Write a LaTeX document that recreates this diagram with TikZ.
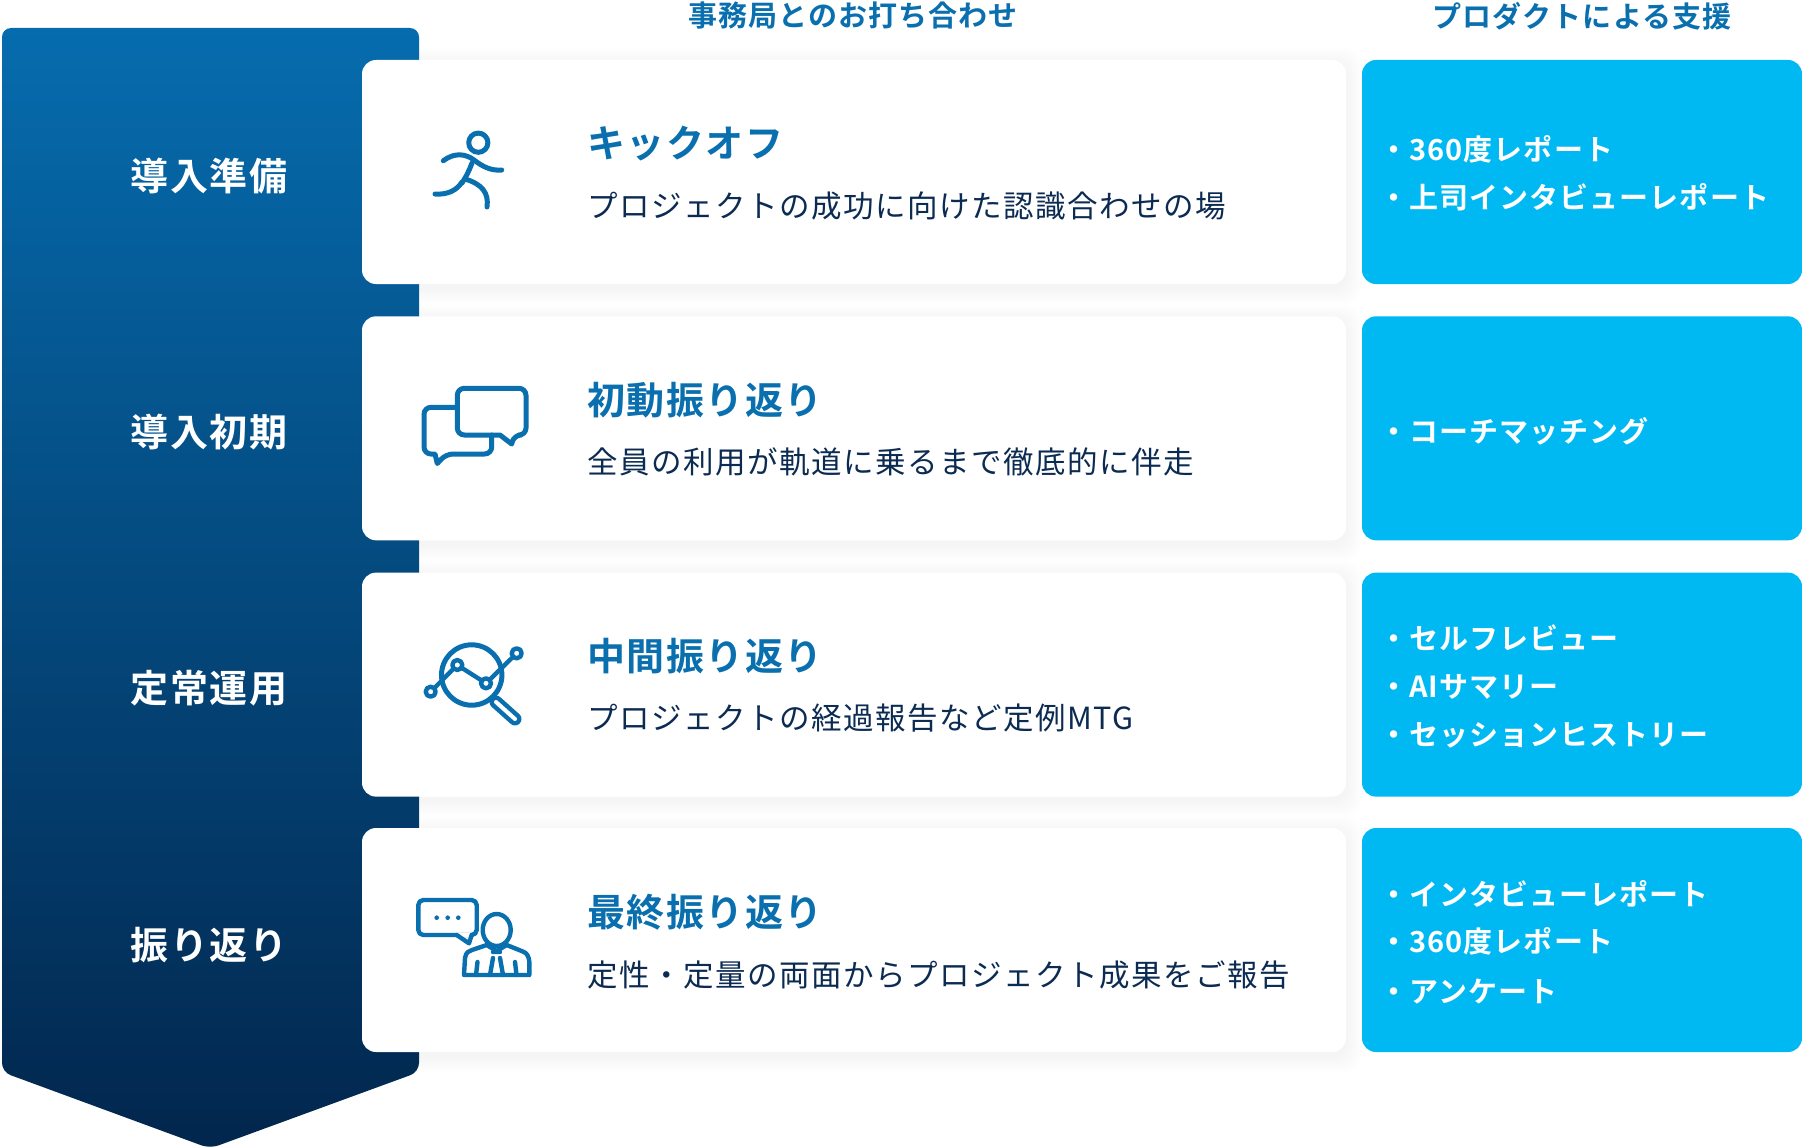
\documentclass[tikz,border=0pt]{standalone}
\usepackage{fontspec}
\setmainfont{Noto Sans CJK JP}
\newfontfamily\jpb[LetterSpace=4]{Noto Sans CJK JP Bold}
\newfontfamily\jpbs[LetterSpace=3.7]{Noto Sans CJK JP Bold}
\newfontfamily\jpm[LetterSpace=5]{Noto Sans CJK JP}
\definecolor{topblue}{HTML}{066CAE}
\definecolor{botblue}{HTML}{02264D}
\definecolor{ink}{HTML}{0A6FAE}
\definecolor{navy}{HTML}{0C2B52}
\definecolor{sky}{HTML}{00B9F2}
\tikzset{
  x=1pt,y=-1pt,
  card/.style={fill=white,rounded corners=14pt},
  skybox/.style={fill=sky,rounded corners=14pt},
  steplabel/.style={anchor=center,inner sep=0,text=white,font=\jpb\fontsize{38}{38}\selectfont},
  cardtitle/.style={anchor=west,inner sep=0,text=ink,font=\jpb\fontsize{38}{38}\selectfont},
  cardsub/.style={anchor=west,inner sep=0,text=navy,font=\jpm\fontsize{30.5}{31}\selectfont},
  colhead/.style={anchor=center,inner sep=0,text=ink,font=\jpbs\fontsize{29}{29}\selectfont},
  item/.style={anchor=west,inner sep=0,text=white,font=\jpbs\fontsize{29}{29}\selectfont},
  icon/.style={draw=ink,line width=5pt,line cap=round,line join=round},
  iconthin/.style={draw=ink,line width=4.4pt,line cap=round,line join=round},
}
\begin{document}
\begin{tikzpicture}
\useasboundingbox (0,0) rectangle (1802,1148);
% soft shadows of the cards
\foreach \yy in {60,316.3,572.6,828}{
  \foreach \i in {1,...,10}{
    \fill[black,opacity=0.0028,rounded corners=16pt]
      (362-\i*1.6,\yy+4-\i*1.6) rectangle (1346+\i*1.6,\yy+224+4+\i*1.6);
  }
}
% big arrow
\shade[top color=topblue,bottom color=botblue,rounded corners=9pt]
  (2,28) -- (419,28) -- (419,1072) -- (210,1148.5) -- (2,1072) -- cycle;
% cards
\fill[card] (362,60) rectangle (1346,284);
\fill[card] (362,316.3) rectangle (1346,540.3);
\fill[card] (362,572.6) rectangle (1346,796.6);
\fill[card] (362,828) rectangle (1346,1052);
% right boxes
\fill[skybox] (1362,60) rectangle (1802,284);
\fill[skybox] (1362,316.3) rectangle (1802,540.3);
\fill[skybox] (1362,572.6) rectangle (1802,796.6);
\fill[skybox] (1362,828) rectangle (1802,1052);
% headers
\node[colhead] (h1) at (853,16) {事務局とのお打ち合わせ};
\node[colhead] (h2) at (1582,16) {プロダクトによる支援};
% step labels
\node[steplabel] (s1) at (209,176) {導入準備};
\node[steplabel] (s2) at (209,432) {導入初期};
\node[steplabel] (s3) at (209,688) {定常運用};
\node[steplabel] (s4) at (209,945) {振り返り};
% card texts
\node[cardtitle] (t1) at (587,144) {キックオフ};
\node[cardsub] (d1) at (587,206) {プロジェクトの成功に向けた認識合わせの場};
\node[cardtitle] (t2) at (587,400) {初動振り返り};
\node[cardsub] (d2) at (587,462) {全員の利用が軌道に乗るまで徹底的に伴走};
\node[cardtitle] (t3) at (587,656) {中間振り返り};
\node[cardsub] (d3) at (587,718) {プロジェクトの経過報告など定例MTG};
\node[cardtitle] (t4) at (587,912) {最終振り返り};
\node[cardsub] (d4) at (587,975) {定性・定量の両面からプロジェクト成果をご報告};
% right items
\node[item] (a1) at (1379,149) {・360度レポート};
\node[item] (a2) at (1379,197) {・上司インタビューレポート};
\node[item] (b1) at (1379,431) {・コーチマッチング};
\node[item] (c1) at (1379,638) {・セルフレビュー};
\node[item] (c2) at (1379,687) {・AIサマリー};
\node[item] (c3) at (1379,735) {・セッションヒストリー};
\node[item] (e1) at (1379,894) {・インタビューレポート};
\node[item] (e2) at (1379,941) {・360度レポート};
\node[item] (e3) at (1379,991) {・アンケート};
% runner icon
\draw[icon] (478.3,142.7) circle (9.6);
\draw[icon] (443.3,160.7) .. controls (455,152) and (466,154) .. (474,160) .. controls (482,166) and (490,171) .. (501.7,170);
\draw[icon] (472,163) .. controls (469,171) and (466,177) .. (462,183);
\draw[icon] (435,194) .. controls (448,195) and (457,190) .. (462,182);
\draw[icon] (465,179) .. controls (482,184) and (489,193) .. (487,207);
% chat icon
\draw[icon,rounded corners=7pt] (491.7,435) -- (491.7,454) -- (446,454) [sharp corners] -- (437.3,463.5) -- (435,454) [rounded corners=7pt] -- (424,454) -- (424,407.3) -- (457.3,407.3);
\draw[icon,rounded corners=7pt] (457.3,388.3) -- (526,388.3) -- (526,435) -- (514,435) [sharp corners] -- (511.7,444) -- (500,435) [rounded corners=7pt] -- (457.3,435) -- cycle;
% analysis icon
\draw[ink,line width=13pt,line cap=round] (496,702) -- (515,719);
\draw[white,line width=4pt,line cap=round] (496,702) -- (515,719);
\draw[icon,fill=white] (471.7,675) circle (30.2);
\draw[iconthin] (430.7,691.7) -- (457.3,665) -- (486,683.3) -- (516.7,653.3);
\draw[iconthin,fill=white] (430.7,691.7) circle (5);
\draw[iconthin,fill=white] (457.3,665) circle (5);
\draw[iconthin,fill=white] (486,683.3) circle (5);
\draw[iconthin,fill=white] (516.7,653.3) circle (5);
% person icon
\draw[iconthin,rounded corners=5pt] (418.3,900) rectangle (476.7,935);
\fill[white] (458,932.5) rectangle (470,937);
\draw[iconthin] (456.7,935) -- (469,943.3) -- (471.7,935);
\fill[ink] (436.7,917.7) circle (2.3) (447.7,917.7) circle (2.3) (458.3,917.7) circle (2.3);
\draw[iconthin] (496.7,930) ellipse (14 and 16);
\draw[iconthin] (464,975) -- (465,958) .. controls (466,952) and (469,951) .. (472,950) -- (486.7,945) -- (496.7,951) -- (506.7,945) -- (523.3,951.7) .. controls (527,953) and (529,957) .. (529.3,961.7) -- (529.3,975) -- cycle;
\draw[iconthin] (493,958) -- (490,975) (500,958) -- (503,975) (493,952) -- (500,952);
\draw[iconthin] (477.5,962) -- (476,975) (515,962) -- (516.5,975);
\end{tikzpicture}
\end{document}
